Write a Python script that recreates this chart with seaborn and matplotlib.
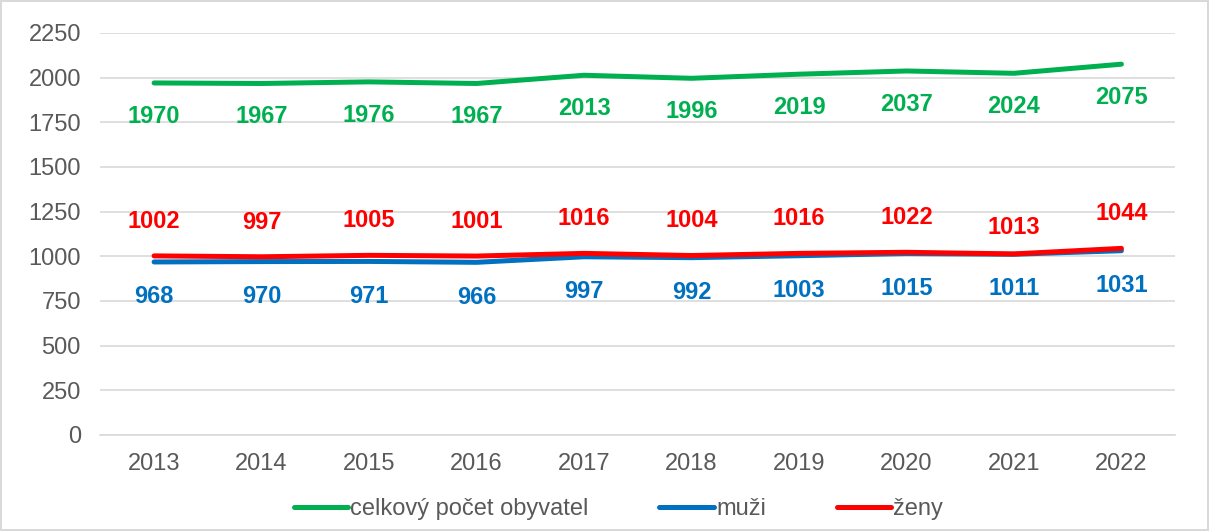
import pandas as pd
import matplotlib.pyplot as plt
import seaborn as sns

# Data
roky = ["2013", "2014", "2015", "2016", "2017", "2018", "2019", "2020", "2021", "2022"]
celkem = [1970, 1967, 1976, 1967, 2013, 1996, 2019, 2037, 2024, 2075]
muzi = [968, 970, 971, 966, 997, 992, 1003, 1015, 1011, 1031]
zeny = [1002, 997, 1005, 1001, 1016, 1004, 1016, 1022, 1013, 1044]

serie = ["celkový počet obyvatel", "muži", "ženy"]
barvy = ["#00B050", "#0070C0", "#FF0000"]

df = pd.DataFrame({"rok": roky * 3,
                   "hodnota": celkem + muzi + zeny,
                   "serie": [serie[0]] * 10 + [serie[1]] * 10 + [serie[2]] * 10})

sns.set_style("white")
plt.rcParams['font.family'] = ['Liberation Sans', 'DejaVu Sans']

fig = plt.figure(figsize=(12.09, 5.31), dpi=100)
fig.patch.set_edgecolor("#D9D9D9")
fig.patch.set_linewidth(1.5)
ax = fig.add_axes([0.083, 0.181, 0.889, 0.757])

sns.lineplot(data=df, x="rok", y="hodnota", hue="serie", palette=barvy,
             linewidth=3.6, ax=ax, sort=False)

# Popisky hodnot
for i, r in enumerate(roky):
    ax.annotate(str(celkem[i]), (i, celkem[i]), xytext=(0, -24), textcoords="offset points",
                ha="center", va="center", color=barvy[0], fontsize=17, fontweight="bold")
    ax.annotate(str(muzi[i]), (i, muzi[i]), xytext=(0, -25), textcoords="offset points",
                ha="center", va="center", color=barvy[1], fontsize=17, fontweight="bold")
    posun = 19 if r == "2021" else 25
    ax.annotate(str(zeny[i]), (i, zeny[i]), xytext=(0, posun), textcoords="offset points",
                ha="center", va="center", color=barvy[2], fontsize=17, fontweight="bold")

ax.set_ylim(0, 2250)
ax.set_xlim(-0.5, 9.5)
ax.set_yticks(range(0, 2251, 250))
ax.yaxis.grid(True, color="#D9D9D9", linewidth=1.2)
ax.set_axisbelow(True)
for s in ["top", "right", "left"]:
    ax.spines[s].set_visible(False)
ax.spines["bottom"].set_color("#D9D9D9")
ax.spines["bottom"].set_linewidth(1.2)
ax.tick_params(axis="both", length=0, labelsize=17, colors="#595959")
ax.tick_params(axis="y", pad=14)
ax.tick_params(axis="x", pad=13)
ax.set_xlabel("")
ax.set_ylabel("")

ax.legend(loc="upper center", bbox_to_anchor=(0.482, -0.105), ncol=3, frameon=False,
          fontsize=17, handlelength=2.3, handletextpad=0.1, columnspacing=3.0,
          labelcolor="#595959")

fig.savefig("out.png", dpi=100)
